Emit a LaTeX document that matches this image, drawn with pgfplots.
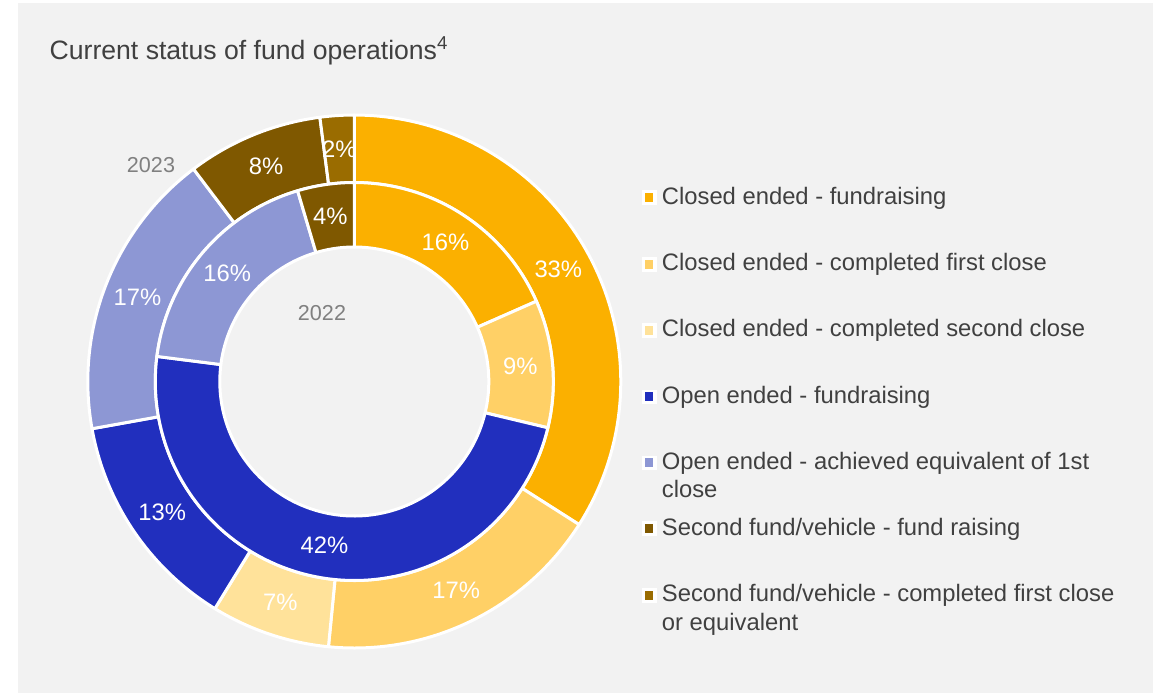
\documentclass[border=0pt]{standalone}
\usepackage{pgfplots}
\pgfplotsset{compat=1.18}
\usepackage{fontspec}
\setmainfont{Liberation Sans}
\definecolor{bg}{RGB}{242,242,242}
\definecolor{txt}{RGB}{64,64,64}
\definecolor{yr}{RGB}{128,128,128}
\definecolor{cA}{RGB}{251,176,0}
\definecolor{cB}{RGB}{255,208,102}
\definecolor{cC}{RGB}{255,226,154}
\definecolor{cD}{RGB}{33,47,190}
\definecolor{cE}{RGB}{141,151,212}
\definecolor{cF}{RGB}{127,88,0}
\definecolor{cG}{RGB}{154,108,0}

% data: shares in percent, order = legend order
\def\outervals{33,17,7,13,17,8,2}   % 2023 (outer ring)
\def\innervals{16,9,0,42,16,4,0}    % 2022 (inner ring)

\def\cx{354.3}
\def\cy{381.5}

\tikzset{pct/.style={text=white, font=\fontsize{11.9}{14}\selectfont, inner sep=0pt},
  leg/.style={anchor=base west, text=txt, font=\fontsize{11.9}{14}\selectfont, inner sep=0pt}}

\newcommand\computeangles[2]{% prefix, list macro
  \xdef\tot{0}%
  \foreach \v in #2 {\pgfmathsetmacro\tmpsum{\tot+\v}\xdef\tot{\tmpsum}}%
  \xdef\cum{0}%
  \foreach \v [count=\k] in #2 {%
    \pgfmathsetmacro\tmps{\cum}%
    \pgfmathsetmacro\tmpe{\cum+360*\v/\tot}%
    \expandafter\xdef\csname #1S\k\endcsname{\tmps}%
    \expandafter\xdef\csname #1E\k\endcsname{\tmpe}%
    \xdef\cum{\tmpe}%
  }}

\newcommand\sector[5]{% prefix, index, r_in, r_out, colour
  \edef\tmpcmd{\noexpand\filldraw[fill=#5, draw=white, line width=1.5pt, line join=round]
    plot[domain=\csname #1S#2\endcsname:\csname #1E#2\endcsname, samples=90]
      ({\cx+#4*sin(\noexpand\x)},{\cy-#4*cos(\noexpand\x)})
    -- plot[domain=\csname #1E#2\endcsname:\csname #1S#2\endcsname, samples=90]
      ({\cx+#3*sin(\noexpand\x)},{\cy-#3*cos(\noexpand\x)}) -- cycle;}%
  \tmpcmd}
\newcommand\seclabel[4]{% prefix, index, radius, text
  \pgfmathsetmacro\m{(\csname #1S#2\endcsname+\csname #1E#2\endcsname)/2}%
  \pgfmathsetmacro\lx{\cx+#3*sin(\m)}%
  \pgfmathsetmacro\ly{\cy-#3*cos(\m)}%
  \edef\tmpcmd{\noexpand\node[pct] at (\lx,\ly) {#4};}%
  \tmpcmd}
\newcommand\legitem[3]{% baseline y, colour, text
  \fill[white] (642,#1-13.6) rectangle (656.7,#1+1);
  \fill[#2] (645,#1-11) rectangle (653.3,#1-2.2);
  \node[leg] at (661.5,#1) {#3};}
\newcommand\legline[2]{\node[leg] at (661.5,#1) {#2};}

\begin{document}
\begin{tikzpicture}
\computeangles{o}{\outervals}
\computeangles{i}{\innervals}
\begin{axis}[width=576.5pt, height=346.5pt, scale only axis,
  xmin=0, xmax=1153, ymin=0, ymax=693, y dir=reverse,
  hide axis, clip=false]
\fill[white] (0,0) rectangle (1153,693);
\fill[bg] (18,3) rectangle (1153,693);

% outer ring (2023)
\sector{o}{1}{199}{266.5}{cA}
\sector{o}{2}{199}{266.5}{cB}
\sector{o}{3}{199}{266.5}{cC}
\sector{o}{4}{199}{266.5}{cD}
\sector{o}{5}{199}{266.5}{cE}
\sector{o}{6}{199}{266.5}{cF}
\sector{o}{7}{199}{266.5}{cG}
% inner ring (2022); categories 3 and 7 are 0
\sector{i}{1}{134.5}{199}{cA}
\sector{i}{2}{134.5}{199}{cB}
\sector{i}{4}{134.5}{199}{cD}
\sector{i}{5}{134.5}{199}{cE}
\sector{i}{6}{134.5}{199}{cF}

\seclabel{o}{1}{232.75}{33\%}
\seclabel{o}{2}{232.75}{17\%}
\seclabel{o}{3}{232.75}{7\%}
\seclabel{o}{4}{232.75}{13\%}
\seclabel{o}{5}{232.75}{17\%}
\seclabel{o}{6}{232.75}{8\%}
\seclabel{o}{7}{232.75}{2\%}
\seclabel{i}{1}{166.75}{16\%}
\seclabel{i}{2}{166.75}{9\%}
\seclabel{i}{4}{166.75}{42\%}
\seclabel{i}{5}{166.75}{16\%}
\seclabel{i}{6}{166.75}{4\%}

\node[text=yr, font=\fontsize{10.8}{13}\selectfont, inner sep=0pt] at (151,165) {2023};
\node[text=yr, font=\fontsize{10.8}{13}\selectfont, inner sep=0pt] at (322,313) {2022};

\node[anchor=base west, text=txt, font=\fontsize{13.3}{16}\selectfont, inner sep=0pt] at (49.3,59.5) {Current status of fund operations\textsuperscript{4}};

\legitem{204}{cA}{Closed ended - fundraising}
\legitem{270.7}{cB}{Closed ended - completed first close}
\legitem{336.7}{cC}{Closed ended - completed second close}
\legitem{403.3}{cD}{Open ended - fundraising}
\legitem{469.3}{cE}{Open ended - achieved equivalent of 1st}
\legline{497.7}{close}
\legitem{535}{cF}{Second fund/vehicle - fund raising}
\legitem{601.7}{cG}{Second fund/vehicle - completed first close}
\legline{630}{or equivalent}
\end{axis}
\end{tikzpicture}
\end{document}
